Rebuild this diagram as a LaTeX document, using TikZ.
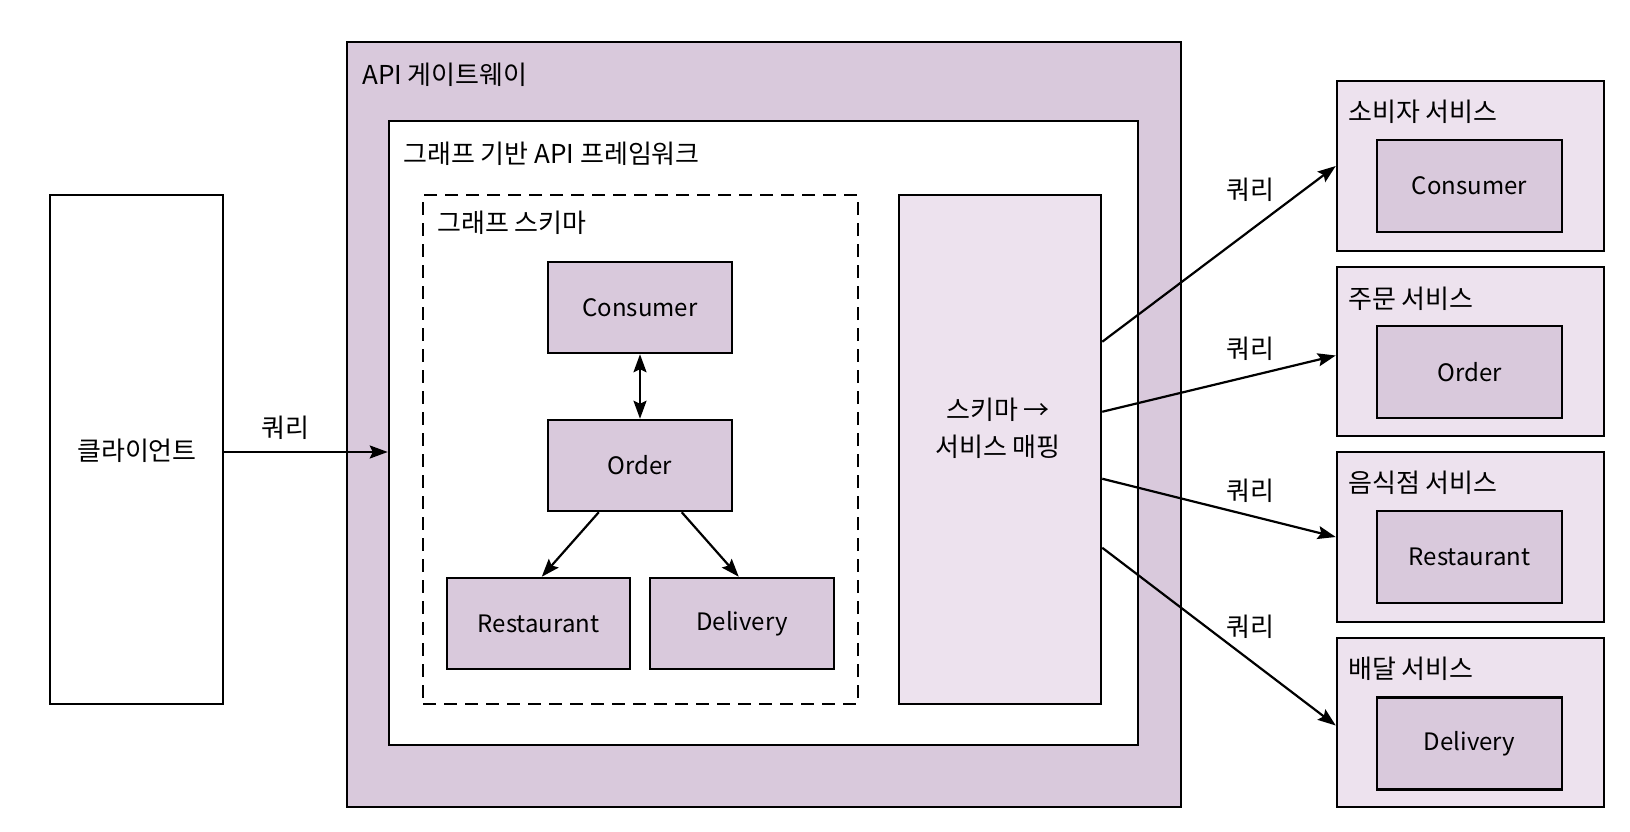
\documentclass[tikz,border=0pt]{standalone}
\usepackage{fontspec}
\setmainfont{Noto Sans CJK KR}
\usetikzlibrary{arrows.meta,calc}
\definecolor{pdark}{HTML}{D9C9DC}
\definecolor{plight}{HTML}{EDE2EE}
\begin{document}
\begin{tikzpicture}[x=1pt,y=-1pt,
  box/.style={draw=black,line width=2.5pt,rectangle,inner sep=0pt,font=\fontsize{24}{28}\selectfont},
  title/.style={anchor=west,inner sep=0pt,font=\fontsize{26}{30}\selectfont},
  lbl/.style={inner sep=0pt,font=\fontsize{26}{30}\selectfont},
  arr/.style={line width=2.2pt,-{Stealth[length=18pt,width=13pt,inset=3pt]}},
  darr/.style={line width=2.2pt,{Stealth[length=18pt,width=13pt,inset=3pt]}-{Stealth[length=18pt,width=13pt,inset=3pt]}}]
\useasboundingbox[fill=white] (0,0) rectangle (1630,832);

% client
\node[box,fill=white,minimum width=173pt,minimum height=509pt] (client) at (136.5,449.5) {};
\node[lbl] (clientt) at (137,451) {클라이언트};

% gateway
\node[box,fill=pdark,minimum width=834pt,minimum height=765pt] (gw) at (764,424.5) {};
\node[title] (gwt) at (362,75) {API 게이트웨이};

% framework
\node[box,fill=white,minimum width=749pt,minimum height=624pt] (fw) at (763.5,433) {};
\node[title] (fwt) at (403,154) {그래프 기반 API 프레임워크};

% schema
\node[box,dash pattern=on 13pt off 8pt,fill=white,minimum width=435pt,minimum height=509pt] (sch) at (640.5,449.5) {};
\node[title] (scht) at (437,223) {그래프 스키마};

\node[box,fill=pdark,minimum width=184pt,minimum height=91pt] (cons) at (640,307.5) {Consumer};
\node[box,fill=pdark,minimum width=184pt,minimum height=91pt] (ord) at (640,465.5) {Order};
\node[box,fill=pdark,minimum width=183pt,minimum height=91pt] (rest) at (538.5,623.5) {Restaurant};
\node[box,fill=pdark,minimum width=184pt,minimum height=91pt] (deli) at (742,623.5) {Delivery};

% mapping
\node[box,fill=plight,minimum width=202pt,minimum height=509pt] (map) at (1000,449.5) {};
\node[lbl,align=center,font=\fontsize{26}{37}\selectfont] (mapt) at (998,428) {스키마 →\\서비스 매핑};

% services
\node[box,fill=plight,minimum width=267pt,minimum height=170pt] (s1) at (1470.5,166) {};
\node[box,fill=plight,minimum width=267pt,minimum height=169pt] (s2) at (1470.5,351.5) {};
\node[box,fill=plight,minimum width=267pt,minimum height=170pt] (s3) at (1470.5,537) {};
\node[box,fill=plight,minimum width=267pt,minimum height=169pt] (s4) at (1470.5,722.5) {};
\node[title] (s1t) at (1348,112) {소비자 서비스};
\node[title] (s2t) at (1348,299) {주문 서비스};
\node[title] (s3t) at (1348,483) {음식점 서비스};
\node[title] (s4t) at (1348,669) {배달 서비스};
\node[box,fill=pdark,minimum width=185pt,minimum height=92pt] (i1) at (1469.5,186) {Consumer};
\node[box,fill=pdark,minimum width=185pt,minimum height=92pt] (i2) at (1469.5,372) {Order};
\node[box,fill=pdark,minimum width=185pt,minimum height=92pt] (i3) at (1469.5,557) {Restaurant};
\node[box,fill=pdark,minimum width=185pt,minimum height=92pt] (i4) at (1469.5,743.5) {Delivery};

% connectors
\draw[arr] (client.east |- 0,452) coordinate (c0) -- (c0 -| fw.west);
\node[lbl] (q0) at (285,428) {쿼리};

\draw[darr] (cons.south) -- (ord.north);
\draw[arr] ($(ord.south west)+(52,0)$) -- ($(rest.north west)+(96,0)$);
\draw[arr] ($(ord.south west)+(135,0)$) -- ($(deli.north west)+(90,0)$);

\coordinate (m1) at ($(map.north east)+(0,148)$);
\coordinate (m2) at ($(map.north east)+(0,218)$);
\coordinate (m3) at ($(map.north east)+(0,285)$);
\coordinate (m4) at ($(map.north east)+(0,354)$);
\draw[arr] (m1) -- (s1.west);
\draw[arr] (m2) -- ($(s2.west)+(0,4)$);
\draw[arr] (m3) -- (s3.west);
\draw[arr] (m4) -- ($(s4.west)+(0,3)$);
\node[lbl] (q1) at (1250,190) {쿼리};
\node[lbl] (q2) at (1250,349) {쿼리};
\node[lbl] (q3) at (1250,491) {쿼리};
\node[lbl] (q4) at (1250,627) {쿼리};
\end{tikzpicture}
\end{document}
